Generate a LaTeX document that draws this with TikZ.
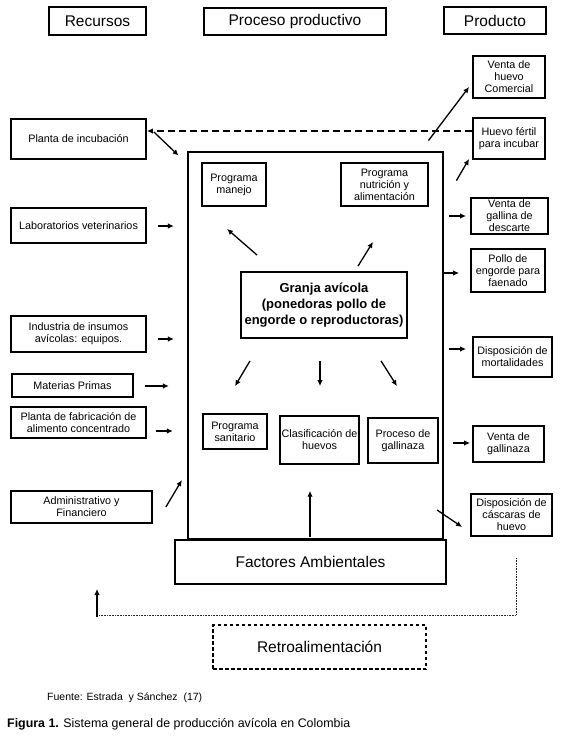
\documentclass[tikz,border=0pt]{standalone}
\usepackage{fontspec}
\setmainfont{Liberation Sans}
\usetikzlibrary{arrows.meta,calc}
\begin{document}
\begin{tikzpicture}[x=1pt,y=-1pt,
  box/.style={draw,line width=1.8pt,align=center,inner sep=1pt,font=\fontsize{10.8}{12}\selectfont},
  hdr/.style={draw,line width=1.8pt,inner sep=0pt,font=\fontsize{15.5}{18}\selectfont},
  bigbox/.style={draw,line width=2.8pt,inner sep=0pt},
  arr/.style={-{Latex[length=6pt,width=5.5pt]},line width=1.3pt},
  dasharr/.style={-{Latex[length=6pt,width=5.5pt]},line width=1.3pt,dash pattern=on 7pt off 4pt},
  dotline/.style={line width=1pt,dash pattern=on 0.6pt off 1pt,black!85},
]
\useasboundingbox (0,0) rectangle (573,737);

% headers
\node[hdr,minimum width=97pt,minimum height=28pt] (rec) at (97.5,21) {Recursos};
\node[hdr,minimum width=182pt,minimum height=27pt] (proc) at (295,21.5) {Proceso productivo};
\node[hdr,minimum width=102pt,minimum height=27pt] (prod) at (495,20.5) {Producto};

% main boxes
\node[bigbox,minimum width=255pt,minimum height=387pt] (main) at (315.5,345.5) {};
\node[bigbox,line width=2.6pt,minimum width=271pt,minimum height=44pt,fill=white,font=\fontsize{15.5}{18}\selectfont] (fact) at (310.5,562) {Factores Ambientales};
\node[draw,line width=1.2pt,dash pattern=on 3.5pt off 2.5pt,minimum width=213pt,minimum height=44pt,font=\fontsize{15.5}{18}\selectfont] (retro) at (319.5,647) {Retroalimentación};

% left boxes
\node[box,minimum width=135pt,minimum height=40pt] (pinc) at (78.5,139) {Planta de incubación};
\node[box,minimum width=135pt,minimum height=35pt] (lab) at (78.5,225.5) {Laboratorios veterinarios};
\node[box,minimum width=135pt,minimum height=36pt] (ind) at (78.5,334) {Industria de insumos\\avícolas: equipos.};
\node[box,minimum width=121pt,minimum height=23pt] (mat) at (72.5,385.5) {Materias Primas};
\node[box,minimum width=135pt,minimum height=31pt] (pfab) at (78.5,422.5) {Planta de fabricación de\\alimento concentrado};
\node[box,minimum width=141pt,minimum height=32pt] (adm) at (81.5,507) {Administrativo y\\Financiero};

% right boxes
\node[box,minimum width=72pt,minimum height=42pt] (vhc) at (509,77) {Venta de\\huevo\\Comercial};
\node[box,minimum width=72pt,minimum height=41pt] (hf) at (509,138.5) {Huevo fértil\\para incubar};
\node[box,minimum width=77pt,minimum height=36pt] (vgd) at (509.5,216) {Venta de\\gallina de\\descarte};
\node[box,minimum width=74pt,minimum height=43pt] (pollo) at (508,270.5) {Pollo de\\engorde para\\faenado};
\node[box,minimum width=79pt,minimum height=40pt] (mort) at (512.5,357) {Disposición de\\mortalidades};
\node[box,minimum width=71pt,minimum height=36pt] (vgal) at (508.5,444) {Venta de\\gallinaza};
\node[box,minimum width=81pt,minimum height=42pt] (cas) at (511.5,515) {Disposición de\\cáscaras de\\huevo};

% inner boxes
\node[box,minimum width=64pt,minimum height=43pt] (pman) at (234,184.5) {Programa\\manejo};
\node[box,minimum width=87pt,minimum height=43pt] (pnut) at (384.5,184.5) {Programa\\nutrición y\\alimentación};
\node[box,minimum width=166pt,minimum height=66pt,font=\bfseries\fontsize{13}{15.7}\selectfont] (granja) at (324,305) {Granja avícola\\(ponedoras pollo de\\engorde o reproductoras)};
\node[box,minimum width=64pt,minimum height=35pt] (psan) at (235,431.5) {Programa\\sanitario};
\node[box,minimum width=79pt,minimum height=48pt] (clas) at (319.5,440) {Clasificación de\\huevos};
\node[box,minimum width=70pt,minimum height=45pt] (pgal) at (403,440.5) {Proceso de\\gallinaza};

% connectors
\draw[dasharr] ($(hf.west)+(0,-7.5)$) -- ($(pinc.east)+(0,-8)$);
\draw[arr] ($(pinc.east)+(7,-7)$) -- ($(main.north west)+(-8,5)$);
\draw[arr] ($(main.north east)+(-16,-10)$) -- ($(vhc.south west)+(-3,-12)$);
\draw[arr] ($(main.north east)+(12,30)$) -- ($(hf.south west)+(-3,-1)$);

\draw[arr] ($(lab.east)+(11,0.5)$) -- ($(lab.east)+(27,0.5)$);
\draw[arr] ($(ind.east)+(11,5)$) -- ($(ind.east)+(27,5)$);
\draw[arr] ($(mat.east)+(11,0.5)$) -- ($(mat.east)+(35,0.5)$);
\draw[arr] ($(pfab.east)+(9,8.5)$) -- ($(pfab.east)+(26,8.5)$);
\draw[arr] ($(adm.east)+(13,0)$) -- ($(adm.east)+(29,-27)$);

\draw[arr] ($(vgd.west)+(-21,0)$) -- ($(vgd.west)+(-4,0)$);
\draw[arr] ($(pollo.west)+(-27,2.5)$) -- ($(pollo.west)+(-11,2.5)$);
\draw[arr] ($(mort.west)+(-23,-8)$) -- ($(mort.west)+(-6,-8)$);
\draw[arr] ($(vgal.west)+(-19,-1)$) -- ($(vgal.west)+(-2,-1)$);
\draw[arr] ($(cas.west)+(-33,-5)$) -- ($(cas.west)+(-8,12)$);

\draw[arr] ($(granja.north west)+(17,-16)$) -- ($(pman.south)+(-7,22)$);
\draw[arr] ($(granja.north)+(34,-5)$) -- ($(pnut.south)+(-11.5,35)$);
\draw[arr] ($(granja.south)+(-74,22)$) -- ($(psan.north)+(0,-27)$);
\draw[arr] ($(granja.south)+(-4,22)$) -- ($(clas.north)+(0.5,-29)$);
\draw[arr] ($(granja.south)+(57,22)$) -- ($(pgal.north)+(-6,-31)$);
\draw[arr] ($(fact.north)+(-0.5,-2)$) -- ($(fact.north)+(-0.5,-48)$);

% feedback
\coordinate (fb1) at ($(cas.south)+(4.5,21)$);
\coordinate (fb2) at (97,615);
\draw[dotline] (fb1) |- (fb2);
\draw[arr] ($(fb2)+(0,1.5)$) -- ($(fb2)+(0,-26)$);

% texts
\node[anchor=base west,inner sep=0pt,font=\fontsize{10.5}{12}\selectfont] (fuente) at (47,700) {Fuente: Estrada\ \ y Sánchez\ \ (17)};
\node[anchor=base west,inner sep=0pt,font=\fontsize{12.4}{14}\selectfont] (fig) at (7,727) {\textbf{Figura 1.} Sistema general de producción avícola en Colombia};
\end{tikzpicture}
\end{document}
